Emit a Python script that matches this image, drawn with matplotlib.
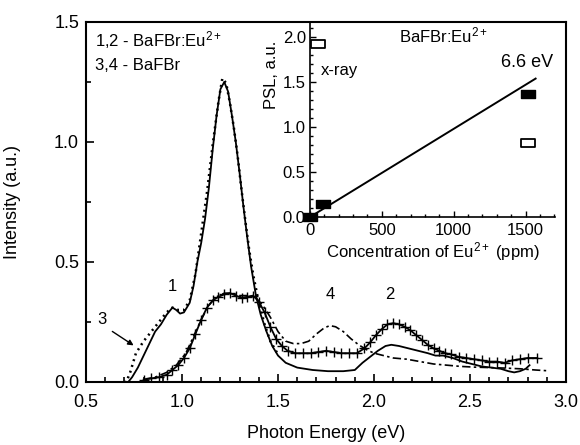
import matplotlib
matplotlib.use("Agg")
import matplotlib.pyplot as plt
from matplotlib.path import Path
from matplotlib.ticker import MultipleLocator

plt.rcParams['font.family'] = ['Liberation Sans', 'DejaVu Sans']
plt.rcParams['mathtext.fontset'] = 'custom'
plt.rcParams['mathtext.rm'] = 'Liberation Sans'
plt.rcParams['mathtext.it'] = 'Liberation Sans:italic'
plt.rcParams['mathtext.bf'] = 'Liberation Sans:bold'

# Curve 1 (solid) BaFBr:Eu2+
E1 = [0.70,0.72,0.74,0.77,0.80,0.83,0.86,0.89,0.92,0.95,0.97,0.99,1.01,1.04,1.06,1.08,1.10,1.12,1.14,1.16,1.18,1.20,1.22,1.24,1.26,1.28,1.30,1.32,1.34,1.36,1.385,1.41,1.44,1.47,1.50,1.54,1.60,1.68,1.76,1.84,1.90,1.94,1.98,2.02,2.06,2.09,2.13,2.18,2.23,2.28,2.32,2.36,2.41,2.46,2.51,2.56,2.61,2.66,2.70,2.73,2.76,2.79,2.81]
I1 = [0.0,0.0,0.02,0.06,0.11,0.16,0.21,0.24,0.28,0.31,0.30,0.285,0.29,0.33,0.40,0.50,0.58,0.68,0.81,0.97,1.11,1.22,1.25,1.21,1.11,1.00,0.87,0.73,0.60,0.48,0.36,0.28,0.21,0.15,0.11,0.08,0.06,0.05,0.045,0.045,0.05,0.08,0.105,0.13,0.15,0.155,0.15,0.14,0.13,0.12,0.11,0.11,0.10,0.085,0.075,0.065,0.06,0.055,0.045,0.04,0.045,0.055,0.07]

# Curve 3 (dotted) BaFBr
E3 = [0.70,0.71,0.73,0.76,0.80,0.84,0.88,0.92,0.95,0.98,1.01,1.04,1.07,1.10,1.13,1.16,1.19,1.21,1.23,1.25,1.27,1.29,1.31,1.33,1.35,1.37,1.40,1.43,1.46,1.50]
I3 = [0.0,0.0,0.04,0.12,0.17,0.21,0.25,0.29,0.31,0.30,0.30,0.34,0.45,0.62,0.79,0.99,1.17,1.265,1.245,1.16,1.06,0.94,0.80,0.67,0.55,0.45,0.33,0.24,0.17,0.115]

# Curve 2 (solid with +) BaFBr:Eu2+
E2 = [0.80,0.84,0.88,0.92,0.95,0.98,1.01,1.04,1.07,1.10,1.13,1.16,1.19,1.22,1.25,1.28,1.31,1.34,1.37,1.40,1.43,1.46,1.49,1.52,1.55,1.59,1.63,1.67,1.71,1.75,1.79,1.83,1.87,1.91,1.95,1.98,2.01,2.04,2.07,2.10,2.13,2.16,2.19,2.22,2.25,2.28,2.31,2.34,2.37,2.40,2.44,2.48,2.52,2.56,2.60,2.64,2.68,2.72,2.76,2.80,2.85]
I2 = [0.01,0.015,0.02,0.03,0.05,0.07,0.10,0.14,0.20,0.26,0.31,0.34,0.355,0.365,0.37,0.36,0.35,0.355,0.36,0.335,0.29,0.23,0.18,0.15,0.13,0.12,0.12,0.12,0.125,0.13,0.125,0.12,0.12,0.12,0.14,0.165,0.195,0.22,0.24,0.245,0.24,0.23,0.215,0.195,0.175,0.155,0.14,0.13,0.12,0.115,0.105,0.10,0.095,0.09,0.085,0.085,0.08,0.09,0.095,0.10,0.10]

# Curve 4 (dash-dot) BaFBr
E4 = [0.80,0.86,0.92,0.97,1.02,1.06,1.10,1.14,1.18,1.22,1.26,1.30,1.34,1.38,1.42,1.46,1.50,1.54,1.58,1.62,1.66,1.70,1.74,1.77,1.80,1.84,1.88,1.92,1.96,2.00,2.05,2.10,2.17,2.24,2.31,2.38,2.45,2.52,2.60,2.68,2.76,2.84,2.90]
I4 = [0.01,0.02,0.04,0.07,0.12,0.19,0.26,0.32,0.355,0.37,0.37,0.36,0.36,0.355,0.32,0.27,0.21,0.17,0.16,0.16,0.17,0.20,0.225,0.235,0.23,0.21,0.18,0.155,0.135,0.12,0.11,0.10,0.095,0.085,0.075,0.07,0.065,0.062,0.06,0.058,0.055,0.05,0.047]

# Inset: PSL vs concentration
conc_uv = [0, 90, 1520]
psl_uv = [0.0, 0.15, 1.37]
conc_xray = [1520]
psl_xray = [0.82]
fit_conc = [0, 1570]
fit_psl = [0.0, 1.54]

fig = plt.figure(figsize=(5.8, 4.45), dpi=100)
ax = fig.add_axes([0.1483, 0.1416, 0.8276, 0.8090])

ax.plot(E1, I1, color='black', lw=1.3)
ax.plot(E3, I3, color='black', lw=1.8, linestyle=(0, (0.8, 1.6)))
ax.plot(E2, I2, color='black', lw=1.3, marker='+', markersize=7, markeredgewidth=1.0)
ax.plot(E4, I4, color='black', lw=1.2, linestyle=(0, (5, 2, 1.5, 2)))

ax.set_xlim(0.5, 3.0)
ax.set_ylim(0.0, 1.5)
ax.xaxis.set_major_locator(MultipleLocator(0.5))
ax.xaxis.set_minor_locator(MultipleLocator(0.1))
ax.yaxis.set_major_locator(MultipleLocator(0.5))
ax.yaxis.set_minor_locator(MultipleLocator(0.25))
ax.tick_params(which='both', direction='in', labelsize=13, width=1.2)
ax.tick_params(which='major', length=6)
ax.tick_params(which='minor', length=3.5)
ax.tick_params(axis='x', which='both', pad=9)
ax.tick_params(axis='y', which='both', pad=5)
for s in ax.spines.values():
    s.set_linewidth(1.5)
ax.set_xlabel('Photon Energy (eV)', fontsize=13, labelpad=10)
ax.set_ylabel('Intensity (a.u.)', fontsize=13)
ax.yaxis.set_label_coords(-0.135, 0.5)

ax.text(0.547, 1.425, '1,2 - BaFBr:Eu$^{2+}$', fontsize=12, va='center', ha='left')
ax.text(0.547, 1.32, '3,4 - BaFBr', fontsize=12, va='center', ha='left')
ax.text(0.948, 0.396, '1', fontsize=12, ha='center', va='center')
ax.text(0.585, 0.26, '3', fontsize=12, ha='center', va='center')
ax.text(1.77, 0.3625, '4', fontsize=12, ha='center', va='center')
ax.text(2.083, 0.3625, '2', fontsize=12, ha='center', va='center')
ax.annotate('', xy=(0.76, 0.146), xytext=(0.625, 0.217),
            arrowprops=dict(arrowstyle='-|>', color='black', lw=1.0, mutation_scale=8))

# inset
ins = fig.add_axes([0.5345, 0.5124, 0.4224, 0.4382])
ins.patch.set_alpha(0)
rect = Path([(-1, -0.55), (1, -0.55), (1, 0.55), (-1, 0.55), (-1, -0.55)],
            [Path.MOVETO, Path.LINETO, Path.LINETO, Path.LINETO, Path.CLOSEPOLY])
ins.plot(fit_conc, fit_psl, color='black', lw=1.4)
ins.plot(conc_uv, psl_uv, linestyle='none', marker=rect, markersize=10,
         color='black', clip_on=False)
ins.plot(conc_xray, psl_xray, linestyle='none', marker=rect, markersize=10,
         markerfacecolor='white', markeredgecolor='black', markeredgewidth=1.3)
ins.plot([0.0325], [0.885], transform=ins.transAxes, linestyle='none', marker=rect,
         markersize=10, markerfacecolor='white', markeredgecolor='black', markeredgewidth=1.3)
ins.set_xlim(0, 1705)
ins.set_ylim(0, 2.17)
ins.xaxis.set_major_locator(MultipleLocator(500))
ins.xaxis.set_minor_locator(MultipleLocator(100))
ins.yaxis.set_major_locator(MultipleLocator(0.5))
ins.yaxis.set_minor_locator(MultipleLocator(0.1))
ins.tick_params(which='both', direction='in', labelsize=12, width=1.0)
ins.tick_params(axis='y', which='both', pad=3)
ins.tick_params(axis='x', which='both', pad=4)
ins.tick_params(which='major', length=4)
ins.tick_params(which='minor', length=2)
ins.spines['top'].set_visible(False)
ins.spines['right'].set_visible(False)
ins.spines['left'].set_linewidth(1.2)
ins.spines['bottom'].set_linewidth(1.2)
ins.set_xlabel('Concentration of Eu$^{2+}$ (ppm)', fontsize=12, labelpad=2)
ins.set_ylabel('PSL, a.u.', fontsize=12, labelpad=0)
ins.yaxis.set_label_coords(-0.125, 0.73)
ins.text(618, 2.02, 'BaFBr:Eu$^{2+}$', fontsize=12, va='center', ha='left')
ins.text(1326, 1.72, '6.6 eV', fontsize=13, va='center', ha='left')
ins.text(76, 1.63, 'x-ray', fontsize=12, va='center', ha='left')

fig.savefig('out.png', dpi=100)
